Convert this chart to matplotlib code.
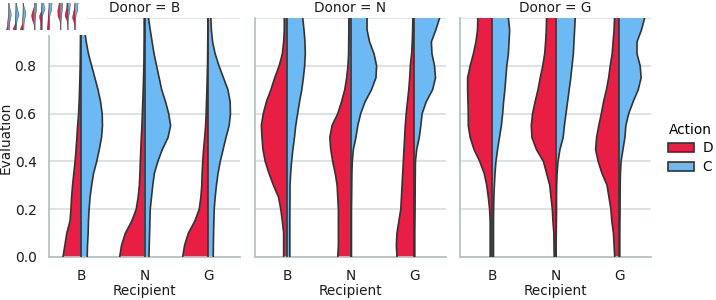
import numpy as np
import matplotlib.pyplot as plt
from matplotlib.patches import Patch, Rectangle

# Evaluation levels at which the violin half-widths were read
levels = [0.00, 0.05, 0.10, 0.15, 0.20, 0.25, 0.30, 0.35, 0.40, 0.45, 0.50,
          0.55, 0.60, 0.65, 0.70, 0.75, 0.80, 0.85, 0.90, 0.95, 1.00]

donors = ["B", "N", "G"]
recipients = ["B", "N", "G"]
actions = ["D", "C"]

# half-widths (x units) for each recipient, Donor = B
donor_B_D = [
    [0.28, 0.25, 0.22, 0.17, 0.155, 0.145, 0.13, 0.11, 0.09, 0.075, 0.062, 0.05, 0.035, 0.026, 0.02, 0.015, 0.01, 0.008, 0.006, 0.005, 0.005],
    [0.39, 0.36, 0.30, 0.20, 0.13, 0.10, 0.08, 0.072, 0.065, 0.058, 0.05, 0.04, 0.033, 0.027, 0.02, 0.015, 0.01, 0.008, 0.006, 0.005, 0.005],
    [0.40, 0.37, 0.31, 0.21, 0.14, 0.115, 0.10, 0.095, 0.085, 0.072, 0.055, 0.04, 0.032, 0.026, 0.02, 0.015, 0.01, 0.008, 0.006, 0.005, 0.005],
]
donor_B_C = [
    [0.10, 0.105, 0.115, 0.12, 0.13, 0.145, 0.17, 0.20, 0.25, 0.29, 0.325, 0.34, 0.335, 0.31, 0.27, 0.22, 0.17, 0.12, 0.085, 0.06, 0.045],
    [0.07, 0.075, 0.08, 0.085, 0.09, 0.11, 0.13, 0.155, 0.21, 0.28, 0.37, 0.41, 0.38, 0.33, 0.27, 0.23, 0.19, 0.15, 0.12, 0.09, 0.063],
    [0.08, 0.082, 0.085, 0.09, 0.095, 0.11, 0.13, 0.155, 0.19, 0.235, 0.28, 0.33, 0.35, 0.345, 0.31, 0.24, 0.17, 0.11, 0.07, 0.05, 0.042],
]

# Donor = N
donor_N_D = [
    [0.05, 0.05, 0.05, 0.07, 0.095, 0.13, 0.21, 0.28, 0.34, 0.375, 0.39, 0.40, 0.37, 0.32, 0.25, 0.19, 0.12, 0.07, 0.05, 0.04, 0.04],
    [0.20, 0.19, 0.19, 0.19, 0.19, 0.20, 0.21, 0.24, 0.28, 0.31, 0.325, 0.29, 0.20, 0.14, 0.09, 0.06, 0.04, 0.03, 0.028, 0.026, 0.025],
    [0.27, 0.28, 0.27, 0.24, 0.21, 0.20, 0.19, 0.18, 0.17, 0.16, 0.15, 0.14, 0.125, 0.105, 0.085, 0.07, 0.06, 0.04, 0.03, 0.024, 0.02],
]
donor_N_C = [
    [0.047, 0.047, 0.047, 0.047, 0.048, 0.05, 0.05, 0.06, 0.075, 0.095, 0.12, 0.14, 0.17, 0.20, 0.235, 0.26, 0.28, 0.29, 0.285, 0.27, 0.25],
    [0.015, 0.015, 0.015, 0.015, 0.015, 0.018, 0.02, 0.022, 0.028, 0.045, 0.085, 0.115, 0.16, 0.23, 0.33, 0.40, 0.41, 0.37, 0.30, 0.26, 0.26],
    [0.01, 0.01, 0.01, 0.012, 0.014, 0.015, 0.016, 0.018, 0.02, 0.04, 0.08, 0.105, 0.125, 0.19, 0.29, 0.335, 0.32, 0.28, 0.27, 0.34, 0.40],
]

# Donor = G
donor_G_D = [
    [0.026, 0.026, 0.026, 0.026, 0.035, 0.055, 0.08, 0.12, 0.19, 0.28, 0.34, 0.37, 0.37, 0.375, 0.38, 0.38, 0.34, 0.29, 0.25, 0.225, 0.22],
    [0.02, 0.024, 0.026, 0.04, 0.05, 0.07, 0.09, 0.14, 0.19, 0.30, 0.37, 0.38, 0.36, 0.32, 0.275, 0.24, 0.20, 0.17, 0.155, 0.145, 0.14],
    [0.07, 0.08, 0.09, 0.115, 0.13, 0.16, 0.19, 0.27, 0.33, 0.37, 0.355, 0.32, 0.28, 0.245, 0.20, 0.165, 0.14, 0.11, 0.095, 0.08, 0.073],
]
donor_G_C = [
    [0.026, 0.026, 0.026, 0.026, 0.028, 0.032, 0.04, 0.05, 0.065, 0.09, 0.12, 0.15, 0.17, 0.185, 0.205, 0.22, 0.235, 0.26, 0.27, 0.28, 0.26],
    [0.01, 0.01, 0.012, 0.014, 0.016, 0.016, 0.018, 0.025, 0.04, 0.07, 0.12, 0.14, 0.165, 0.19, 0.215, 0.24, 0.26, 0.28, 0.29, 0.30, 0.31],
    [0.01, 0.01, 0.01, 0.012, 0.014, 0.015, 0.016, 0.02, 0.03, 0.06, 0.09, 0.105, 0.15, 0.22, 0.30, 0.345, 0.33, 0.28, 0.28, 0.35, 0.40],
]

widths = {
    "B": (donor_B_D, donor_B_C),
    "N": (donor_N_D, donor_N_C),
    "G": (donor_G_D, donor_G_C),
}

RED = "#e91e44"
BLUE = "#6db9f4"
EDGE = "#333333"
GRID = "#d3dada"
SPINE = "#b9c2c2"
TEXT = "#1a1a1a"
FS = 9.8


def draw_violins(ax, d_widths, c_widths, lw):
    y = np.array(levels)
    for i, (wd, wc) in enumerate(zip(d_widths, c_widths)):
        left = i - np.array(wd)
        right = i + np.array(wc)
        ax.fill_betweenx(y, left, i, facecolor=RED, linewidth=0, zorder=2)
        ax.fill_betweenx(y, i, right, facecolor=BLUE, linewidth=0, zorder=2)
        ax.plot(left, y, color=EDGE, lw=lw, zorder=3)
        ax.plot(right, y, color=EDGE, lw=lw, zorder=3)
        ax.plot([i, i], [y[0], y[-1]], color=EDGE, lw=lw, zorder=3)
    ax.set_xlim(-0.5, len(recipients) - 0.5)
    ax.set_ylim(0, 1)


fig = plt.figure(figsize=(7.16, 3.0), dpi=100)

lefts = [49, 255, 460]
for k, donor in enumerate(donors):
    ax = fig.add_axes([lefts[k] / 716, 43 / 300, 191 / 716, 239 / 300])
    d_w, c_w = widths[donor]
    draw_violins(ax, d_w, c_w, lw=1.2)
    ax.set_xticks(range(len(recipients)))
    ax.set_xticklabels(recipients)
    ax.set_yticks([0.0, 0.2, 0.4, 0.6, 0.8, 1.0])
    ax.yaxis.grid(True, color=GRID, lw=1.1, zorder=0)
    ax.set_axisbelow(True)
    ax.tick_params(axis="y", length=0, labelsize=10, pad=9, colors=TEXT)
    ax.tick_params(axis="x", length=0, labelsize=9.8, pad=9, colors=TEXT)
    for s in ["top", "right"]:
        ax.spines[s].set_visible(False)
    for s in ["left", "bottom"]:
        ax.spines[s].set_color(SPINE)
        ax.spines[s].set_linewidth(1.3)
    ax.set_title(f"Donor = {donor}", fontsize=FS, pad=4, color=TEXT)
    ax.set_xlabel("Recipient", fontsize=FS, labelpad=0, color=TEXT)
    if k == 0:
        ax.set_ylabel("Evaluation", fontsize=FS, labelpad=1, color=TEXT)
    else:
        ax.tick_params(labelleft=False)

handles = [Patch(facecolor=RED, edgecolor=EDGE, lw=1.2, label="D"),
           Patch(facecolor=BLUE, edgecolor=EDGE, lw=1.2, label="C")]
fig.legend(handles=handles, title="Action", loc="center left",
           bbox_to_anchor=(667 / 716, 0.505), frameon=False, fontsize=FS,
           title_fontsize=FS, handlelength=1.9, handleheight=0.65,
           handletextpad=0.6, labelspacing=0.35, borderpad=0.1,
           borderaxespad=0)

# small thumbnail pasted over the top-left corner
fig.patches.append(Rectangle((0, 1 - 35 / 300), 87 / 716, 35 / 300,
                             transform=fig.transFigure, facecolor="white",
                             edgecolor="none", zorder=5))
thumb_lefts = [5, 31, 57]
for k, donor in enumerate(donors):
    tax = fig.add_axes([thumb_lefts[k] / 716, 1 - 30 / 300, 22 / 716, 27 / 300])
    tax.set_zorder(6)
    d_w, c_w = widths[donor]
    draw_violins(tax, d_w, c_w, lw=0.3)
    tax.set_xticks([])
    tax.set_yticks([])
    for s in tax.spines.values():
        s.set_visible(False)

fig.savefig("out.png", dpi=100)
